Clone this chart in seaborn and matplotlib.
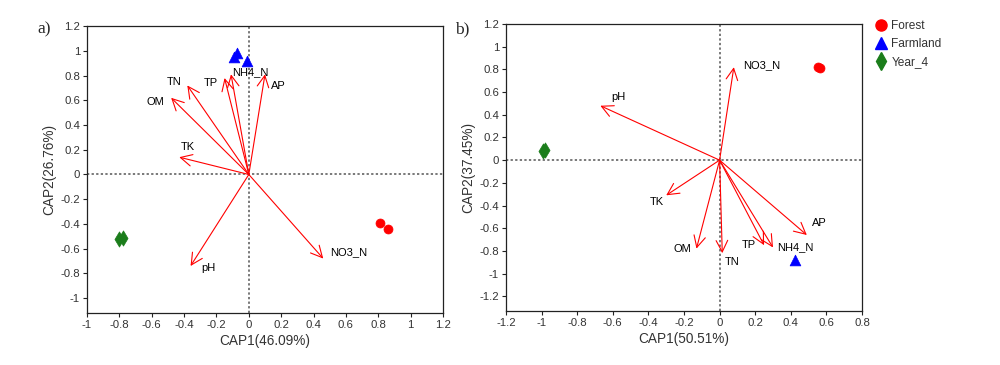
import numpy as np
import pandas as pd
import matplotlib
matplotlib.use("Agg")
import matplotlib.pyplot as plt
import seaborn as sns
from matplotlib.lines import Line2D

# ---------------- data ----------------
groups = ["Forest", "Farmland", "Year_4"]

# panel a: sample scores
a_site_group = ["Forest", "Forest", "Farmland", "Farmland", "Farmland", "Year_4", "Year_4"]
a_site_x = [0.81, 0.86, -0.07, -0.09, -0.01, -0.80, -0.78]
a_site_y = [-0.39, -0.44, 0.98, 0.95, 0.92, -0.52, -0.51]
# panel a: environmental vectors
a_vars = ["NO3_N", "pH", "TK", "OM", "TN", "TP", "NH4_N", "AP"]
a_vec_x = [0.46, -0.36, -0.43, -0.48, -0.38, -0.15, -0.11, 0.10]
a_vec_y = [-0.68, -0.74, 0.14, 0.62, 0.72, 0.78, 0.81, 0.81]
a_lab_x = [0.50, -0.25, -0.38, -0.58, -0.46, -0.235, 0.01, 0.18]
a_lab_y = [-0.63, -0.76, 0.22, 0.59, 0.75, 0.74, 0.83, 0.715]
a_lab_ha = ["left", "center", "center", "center", "center", "center", "center", "center"]

# panel b: sample scores
b_site_group = ["Forest", "Forest", "Farmland", "Year_4", "Year_4"]
b_site_x = [0.55, 0.565, 0.425, -0.99, -0.98]
b_site_y = [0.825, 0.81, -0.88, 0.08, 0.09]
# panel b: environmental vectors
b_vars = ["NO3_N", "pH", "TK", "OM", "TN", "TP", "NH4_N", "AP"]
b_vec_x = [0.08, -0.67, -0.30, -0.13, 0.015, 0.25, 0.30, 0.49]
b_vec_y = [0.82, 0.48, -0.31, -0.78, -0.82, -0.75, -0.77, -0.66]
b_lab_x = [0.13, -0.57, -0.35, -0.21, 0.07, 0.165, 0.425, 0.56]
b_lab_y = [0.84, 0.555, -0.37, -0.78, -0.90, -0.75, -0.77, -0.555]
b_lab_ha = ["left", "center", "center", "center", "center", "center", "center", "center"]

a_xticks = [-1, -0.8, -0.6, -0.4, -0.2, 0, 0.2, 0.4, 0.6, 0.8, 1, 1.2]
a_yticks = [-1, -0.8, -0.6, -0.4, -0.2, 0, 0.2, 0.4, 0.6, 0.8, 1, 1.2]
b_xticks = [-1.2, -1, -0.8, -0.6, -0.4, -0.2, 0, 0.2, 0.4, 0.6, 0.8]
b_yticks = [-1.2, -1, -0.8, -0.6, -0.4, -0.2, 0, 0.2, 0.4, 0.6, 0.8, 1, 1.2]

a_xlabel, a_ylabel = "CAP1(46.09%)", "CAP2(26.76%)"
b_xlabel, b_ylabel = "CAP1(50.51%)", "CAP2(37.45%)"

# ---------------- style ----------------
sns.set_style("ticks")
plt.rcParams["font.family"] = ["Liberation Sans", "DejaVu Sans"]

palette = {"Forest": "#ff0000", "Farmland": "#0000ff", "Year_4": "#1b7d1b"}
markers = {"Forest": "o", "Farmland": "^", "Year_4": "d"}
sizes = {"Forest": 42, "Farmland": 60, "Year_4": 60}

fig = plt.figure(figsize=(10, 3.65), dpi=100)
ax_a = fig.add_axes([0.087, 0.1425, 0.356, 0.786])
ax_b = fig.add_axes([0.506, 0.148, 0.356, 0.786])

text_col = "#333333"


def draw(ax, sg, sx, sy, vars_, vx, vy, lx, ly, lha, xticks, yticks, xlim, ylim, xlabel, ylabel):
    df = pd.DataFrame({"x": sx, "y": sy, "group": sg})
    for g in groups:
        sub = df[df["group"] == g]
        if len(sub) == 0:
            continue
        sns.scatterplot(data=sub, x="x", y="y", color=palette[g], marker=markers[g],
                        s=sizes[g], edgecolor=palette[g], linewidth=0.5, ax=ax,
                        legend=False, zorder=4)
    ax.axhline(0, color="#555555", ls=(0, (1.5, 1.5)), lw=1.1, zorder=1)
    ax.axvline(0, color="#555555", ls=(0, (1.5, 1.5)), lw=1.1, zorder=1)
    for name, x, y, tx, ty, ha in zip(vars_, vx, vy, lx, ly, lha):
        ax.annotate("", xy=(x, y), xytext=(0, 0),
                    arrowprops=dict(arrowstyle="->,head_length=0.75,head_width=0.38",
                                    color="#ff0000", lw=0.8, shrinkA=0, shrinkB=0,
                                    mutation_scale=11), zorder=3)
        ax.text(tx, ty, name, ha=ha, va="center", fontsize=8, color="black", zorder=5)
    ax.set_xlim(*xlim)
    ax.set_ylim(*ylim)
    ax.set_xticks(xticks)
    ax.set_xticklabels([f"{v:g}" for v in xticks])
    ax.set_yticks(yticks)
    ax.set_yticklabels([f"{v:g}" for v in yticks])
    ax.tick_params(axis="both", direction="out", length=3, width=0.8, pad=2,
                   labelsize=8.2, labelcolor=text_col, color="#222222")
    for sp in ax.spines.values():
        sp.set_visible(True)
        sp.set_linewidth(0.9)
        sp.set_color("#222222")
    ax.set_xlabel(xlabel, fontsize=9.8, color=text_col, labelpad=3)
    ax.set_ylabel(ylabel, fontsize=9.8, color=text_col, labelpad=3)


draw(ax_a, a_site_group, a_site_x, a_site_y, a_vars, a_vec_x, a_vec_y, a_lab_x, a_lab_y,
     a_lab_ha, a_xticks, a_yticks, (-1, 1.2), (-1.12, 1.2), a_xlabel, a_ylabel)
draw(ax_b, b_site_group, b_site_x, b_site_y, b_vars, b_vec_x, b_vec_y, b_lab_x, b_lab_y,
     b_lab_ha, b_xticks, b_yticks, (-1.2, 0.8), (-1.33, 1.2), b_xlabel, b_ylabel)

fig.text(0.037, 0.92, "a)", fontsize=12.5, family=["Liberation Serif", "DejaVu Serif"], va="center")
fig.text(0.455, 0.92, "b)", fontsize=12.5, family=["Liberation Serif", "DejaVu Serif"], va="center")

handles = [Line2D([], [], ls="", marker=markers[g], color=palette[g],
                  markersize={"Forest": 8, "Farmland": 8.5, "Year_4": 9}[g])
           for g in groups]
leg = fig.legend(handles, groups, loc="upper left", bbox_to_anchor=(0.874, 0.945),
                 frameon=False, fontsize=8.6, handletextpad=0.25, labelspacing=0.5,
                 handlelength=1.2, borderaxespad=0, borderpad=0)
for t in leg.get_texts():
    t.set_color(text_col)

fig.savefig("out.png", dpi=100)
